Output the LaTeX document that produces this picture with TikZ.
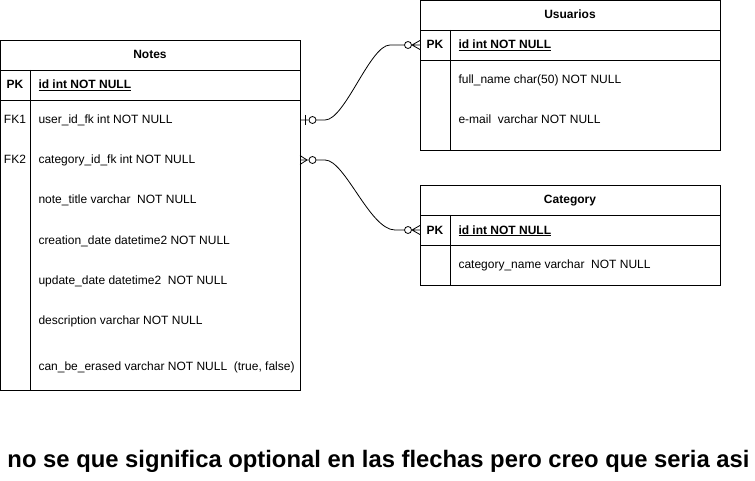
\documentclass[tikz,border=0pt]{standalone}
\usepackage{fontspec}
\setmainfont{Liberation Sans}
\usetikzlibrary{calc}
\begin{document}
\begin{tikzpicture}[x=1pt,y=-1pt,line width=1pt,
  tbl/.style={draw,line width=0.9pt,anchor=north west,inner sep=0pt},
  hdr/.style={font=\fontsize{12}{14}\selectfont\bfseries,anchor=base,yshift=-4pt,inner sep=0pt},
  key/.style={font=\fontsize{12}{14}\selectfont,anchor=base,yshift=-4pt,inner sep=0pt},
  pkey/.style={font=\fontsize{12}{14}\selectfont\bfseries,anchor=base,yshift=-4pt,inner sep=0pt},
  fld/.style={font=\fontsize{12}{14}\selectfont,anchor=base west,yshift=-4pt,inner sep=0pt},
  pfld/.style={font=\fontsize{12}{14}\selectfont\bfseries,anchor=base west,yshift=-4pt,inner sep=0pt},
  conn/.style={line width=0.8pt},
  ermark/.style={line width=0.8pt,fill=white}]
\useasboundingbox (0,0) rectangle (755,481);

% ---- Notes table
\node[tbl,minimum width=300pt,minimum height=350pt] (notes) at (0,40) {};
\draw[line width=0.9pt] (0,70) -- (300,70) (0,100) -- (300,100) (30,70) -- (30,390);
\node[hdr] (notesh) at (150,55) {Notes};
\node[pkey] (npk) at (15,85) {PK};
\node[pfld] (npkf) at (38,85) {\underline{id int NOT NULL}};
\node[key] (nfk1k) at (15,120) {FK1};
\node[fld] (nfk1) at (38,120) {user\_id\_fk int NOT NULL};
\node[key] (nfk2k) at (15,160) {FK2};
\node[fld] (nfk2) at (38,160) {category\_id\_fk int NOT NULL};
\node[fld] (nf3) at (38,200) {note\_title varchar\ \ NOT NULL};
\node[fld] (nf4) at (38,240) {creation\_date datetime2 NOT NULL};
\node[fld] (nf5) at (38,280) {update\_date datetime2\ \ NOT NULL};
\node[fld] (nf6) at (38,320) {description varchar NOT NULL};
\node[fld] (nf7) at (38,366) {can\_be\_erased varchar NOT NULL\ \ (true, false)};

% ---- Usuarios table
\node[tbl,minimum width=300pt,minimum height=150pt] (usu) at (420,0) {};
\draw[line width=0.9pt] (420,30) -- (720,30) (420,60) -- (720,60) (450,30) -- (450,150);
\node[hdr] (usuh) at (570,15) {Usuarios};
\node[pkey] (upk) at (435,45) {PK};
\node[pfld] (upkf) at (458,45) {\underline{id int NOT NULL}};
\node[fld] (uf1) at (458,80) {full\_name char(50) NOT NULL};
\node[fld] (uf2) at (458,120) {e-mail\ \ varchar NOT NULL};

% ---- Category table
\node[tbl,minimum width=300pt,minimum height=100pt] (cat) at (420,185) {};
\draw[line width=0.9pt] (420,215) -- (720,215) (420,245) -- (720,245) (450,215) -- (450,285);
\node[hdr] (cath) at (570,200) {Category};
\node[pkey] (cpk) at (435,230) {PK};
\node[pfld] (cpkf) at (458,230) {\underline{id int NOT NULL}};
\node[fld] (cf1) at (458,265) {category\_name varchar\ \ NOT NULL};

% ---- connection points
\coordinate (a1) at (300,120);
\coordinate (b1) at (420,45);
\coordinate (a2) at (300,160);
\coordinate (b2) at (420,230);

% ---- connector 1: Notes.FK1 (zero or one) -> Usuarios.PK (zero or many)
\draw[conn] (a1) -- ++(8.5,0) (a1) ++(16,0) -- ++(9,0)
  .. controls ($(a1)+(45,0)$) and ($(b1)+(-50,0)$) .. ($(b1)+(-30,0)$) -- ($(b1)+(-15.5,0)$);
\draw[conn] ($(a1)+(5,-5)$) -- ($(a1)+(5,5)$);
\draw[ermark] ($(a1)+(12.5,0)$) circle (3.5);
\draw[ermark] ($(b1)+(-12,0)$) circle (3.5);
\draw[conn] ($(b1)+(-8.5,0)$) -- (b1) ($(b1)+(-8,0)$) -- ($(b1)+(0,-4.5)$) ($(b1)+(-8,0)$) -- ($(b1)+(0,4.5)$);

% ---- connector 2: Notes.FK2 (zero or many) -> Category.PK (zero or many)
\draw[conn] (a2) -- ++(8.5,0) (a2) ++(16,0) -- ++(9,0)
  .. controls ($(a2)+(45,0)$) and ($(b2)+(-50,0)$) .. ($(b2)+(-25,0)$) -- ($(b2)+(-15.5,0)$);
\draw[conn] ($(a2)+(7,0)$) -- ($(a2)+(0,-4.5)$) ($(a2)+(7,0)$) -- ($(a2)+(0,4.5)$);
\draw[ermark] ($(a2)+(12.5,0)$) circle (3.5);
\draw[ermark] ($(b2)+(-12,0)$) circle (3.5);
\draw[conn] ($(b2)+(-8.5,0)$) -- (b2) ($(b2)+(-8,0)$) -- ($(b2)+(0,-4.5)$) ($(b2)+(-8,0)$) -- ($(b2)+(0,4.5)$);

% ---- note
\node[font=\fontsize{23.8}{28}\selectfont\bfseries,anchor=base,inner sep=0pt] (note) at (378.5,467) {no se que significa optional en las flechas pero creo que seria asi};
\end{tikzpicture}
\end{document}
